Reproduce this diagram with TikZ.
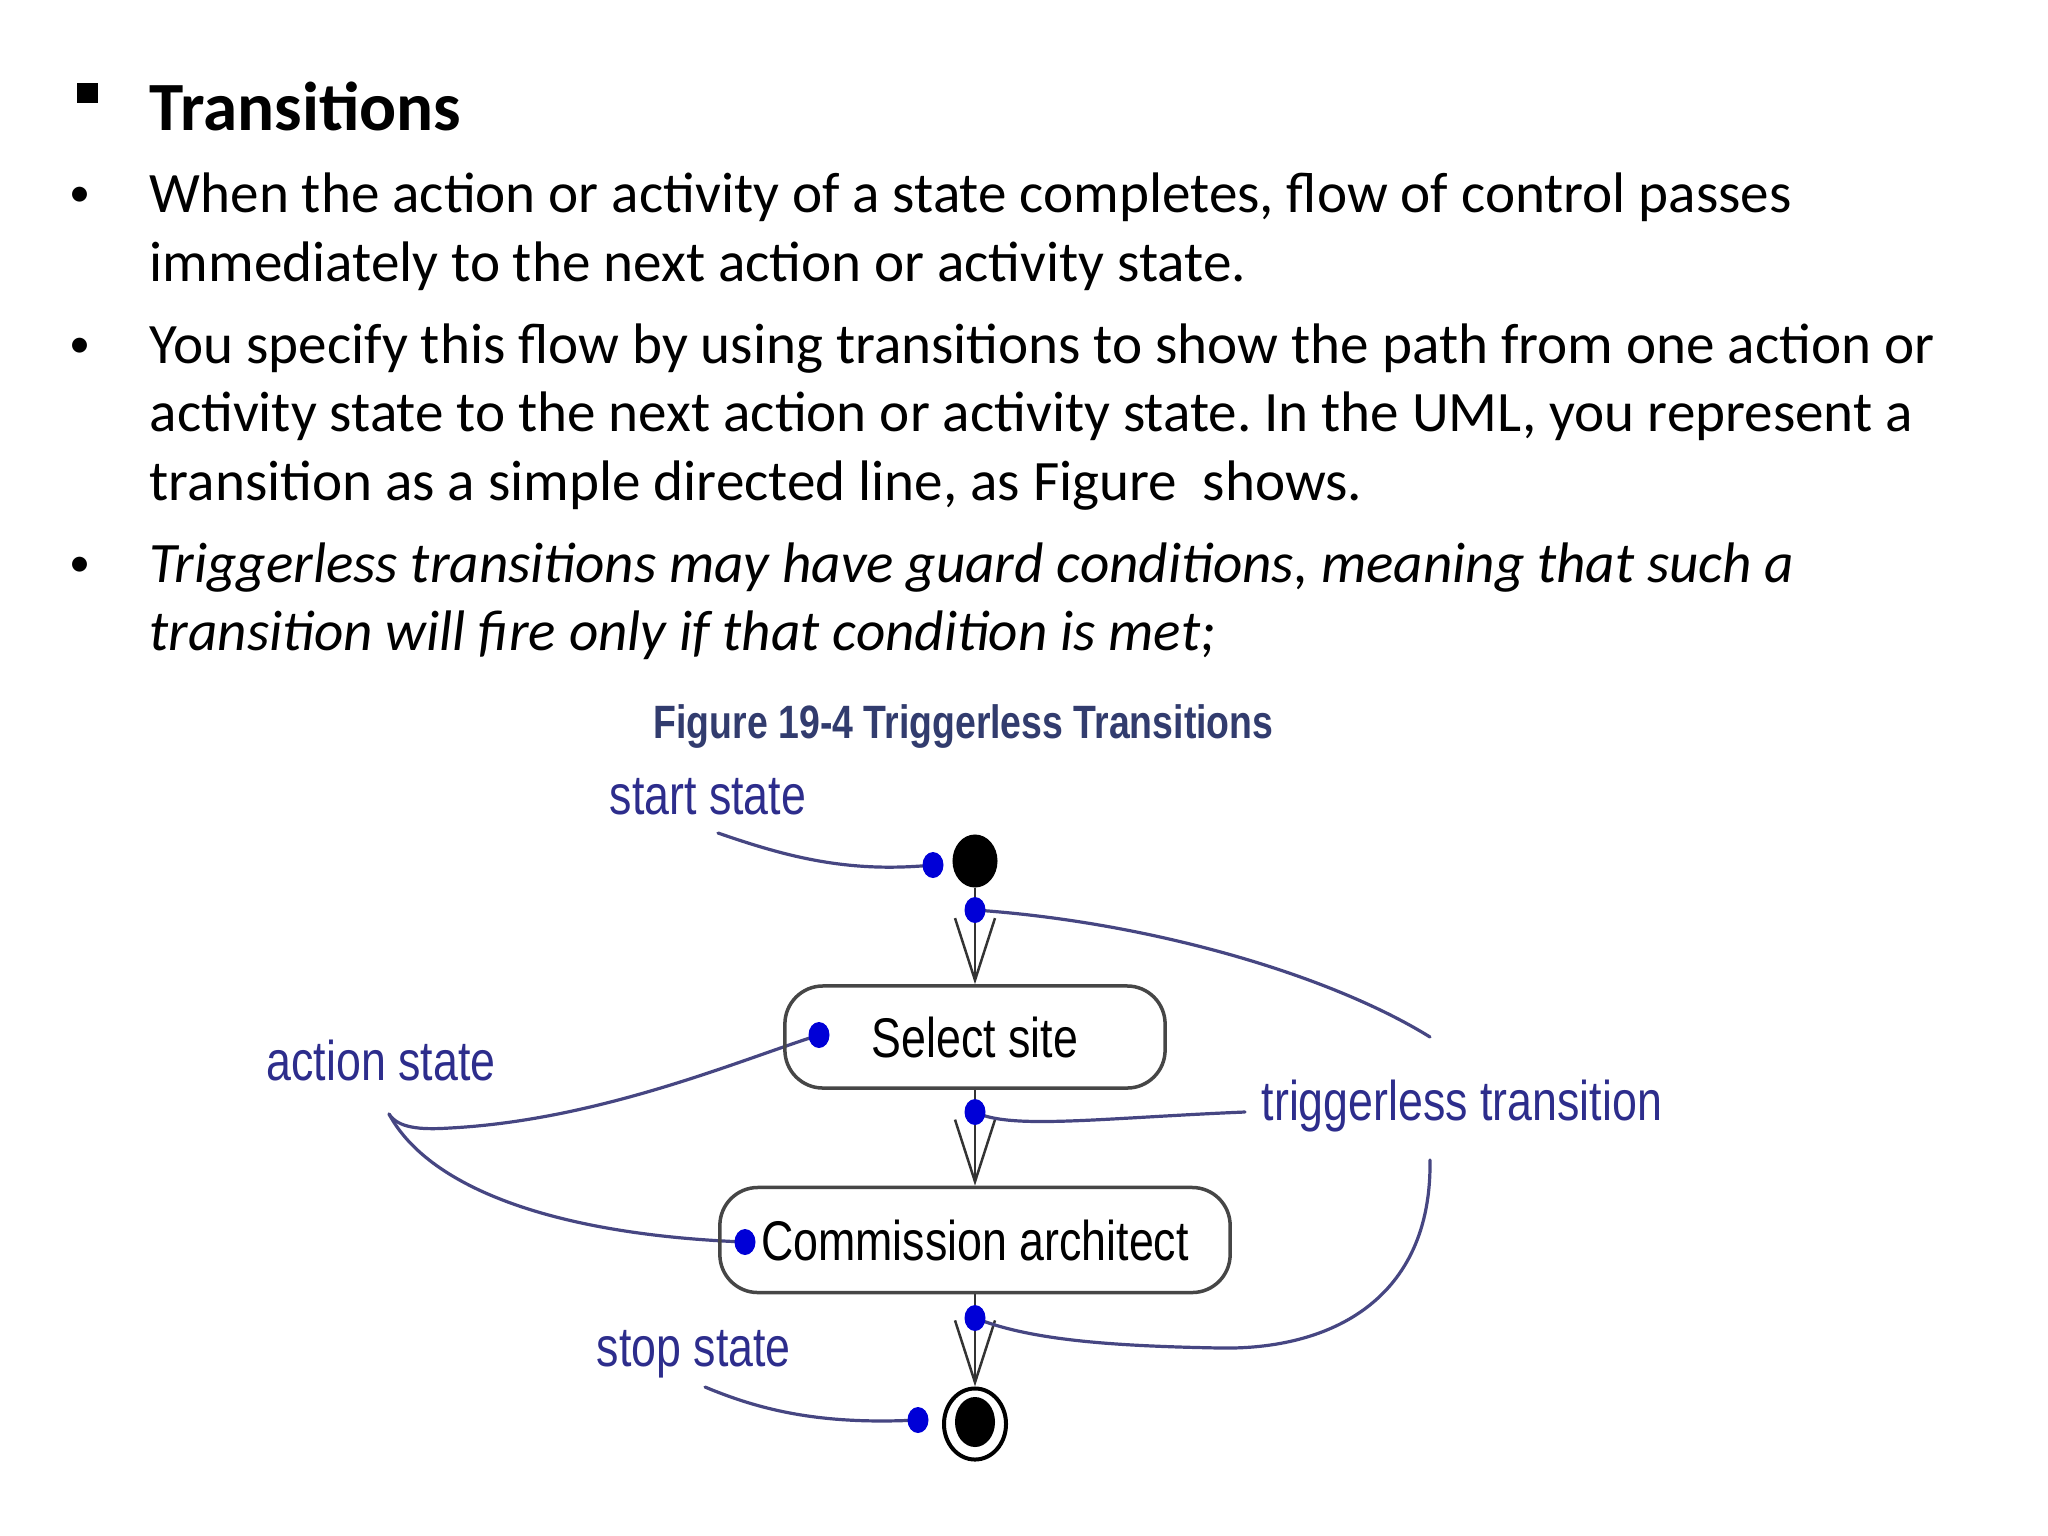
\documentclass[tikz,border=0pt]{standalone}
\usepackage{fontspec}
\setmainfont{Carlito}
\newfontfamily\figfont[FakeStretch=0.8]{Liberation Sans}
\usetikzlibrary{arrows.meta,shapes.geometric,backgrounds}
\definecolor{figtitle}{RGB}{50,60,110}
\definecolor{lblc}{RGB}{45,45,140}
\definecolor{leadc}{RGB}{70,70,130}
\definecolor{dotc}{RGB}{0,0,215}
\definecolor{boxc}{RGB}{70,70,70}
\frenchspacing
\begin{document}
\begin{tikzpicture}[x=0.01cm,y=-0.01cm,
  bodytext/.style={anchor=base west,inner sep=0,font=\fontsize{16.25pt}{19.6pt}\selectfont},
  bodyit/.style={bodytext,font=\fontsize{16.25pt}{19.6pt}\selectfont\itshape},
  bul/.style={anchor=base,inner sep=0,font=\fontsize{12pt}{14pt}\selectfont},
  lbl/.style={anchor=base west,inner sep=0,text=lblc,font=\figfont\fontsize{15.9pt}{18pt}\selectfont},
  statebox/.style={draw=boxc,line width=0.035cm,rounded corners=0.38cm,inner sep=0,
    font=\figfont\fontsize{15.9pt}{18pt}\selectfont},
  bdot/.style={ellipse,fill=dotc,draw=none,minimum width=0.21cm,minimum height=0.26cm,inner sep=0},
  trans/.style={draw=black!80,line width=0.025cm,-{Straight Barb[length=0.62cm,width=0.40cm]}},
  lead/.style={draw=leadc,line width=0.032cm,line cap=round}
]
\useasboundingbox (0,0) rectangle (2048,1536);
% ---- text ----
\fill (77,83) rectangle (98,103);
\node[bodytext,font=\fontsize{19.65pt}{24pt}\selectfont\bfseries] (title) at (149,130) {Transitions};
\node[bul] (b1) at (80,206) {•};
\node[bodytext] (l1) at (149,212) {When the action or activity of a state completes, flow of control passes};
\node[bodytext] (l2) at (149,281) {immediately to the next action or activity state.};
\node[bul] (b2) at (80,357) {•};
\node[bodytext] (l3) at (149,363) {You specify this flow by using transitions to show the path from one action or};
\node[bodytext] (l4) at (149,431) {activity state to the next action or activity state. In the UML, you represent a};
\node[bodytext] (l5) at (149,500) {transition as a simple directed line, as Figure\ \ shows.};
\node[bul] (b3) at (80,576) {•};
\node[bodyit] (l6) at (149,582) {Triggerless transitions may have guard conditions, meaning that such a};
\node[bodyit] (l7) at (149,650) {transition will fire only if that condition is met;};
% ---- figure ----
\node[anchor=base west,inner sep=0,text=figtitle,font=\figfont\bfseries\fontsize{13.3pt}{15pt}\selectfont] (figt) at (653,738) {Figure 19-4 Triggerless Transitions};
\node[lbl] (lstart) at (609,814) {start state};
\node[lbl] (laction) at (266,1080) {action state};
\node[lbl] (ltrig) at (1261,1120) {triggerless transition};
\node[lbl] (lstop) at (596,1366) {stop state};

\node[ellipse,fill=black,minimum width=0.45cm,minimum height=0.53cm,inner sep=0] (start) at (975,861) {};
\node[statebox,minimum width=3.80cm,minimum height=1.02cm] (sel) at (975,1037) {Select site};
\node[statebox,minimum width=5.10cm,minimum height=1.05cm] (com) at (975,1240) {Commission architect};
\node[ellipse,draw=black,line width=0.04cm,minimum width=0.62cm,minimum height=0.71cm,inner sep=0] (stop) at (975,1424) {};
\node[ellipse,fill=black,minimum width=0.40cm,minimum height=0.50cm,inner sep=0] (stopin) at (975,1422) {};

\node[bdot] (dStart) at (933,865) {};
\node[bdot] (dT1) at (975,910) {};
\node[bdot] (dSel) at (819,1035) {};
\node[bdot] (dT2) at (975,1112) {};
\node[bdot] (dCom) at (745,1242) {};
\node[bdot] (dT3) at (975,1318) {};
\node[bdot] (dStop) at (918,1420) {};

\coordinate (cStart) at (718,833);
\coordinate (cTrA) at (1430,1037);
\coordinate (cTrB) at (1245,1112);
\coordinate (cTrC) at (1430,1160);
\coordinate (cAct) at (389,1114);
\coordinate (cStop) at (705,1387);

\begin{pgfonlayer}{background}
\draw[trans] (start) -- (sel);
\draw[trans] (sel) -- (com);
\draw[trans] (com) -- (stop);
\draw[lead] (cStart) .. controls (790,858) and (850,873) .. (dStart.center);
\draw[lead] (dT1.center) .. controls (1150,922) and (1330,975) .. (cTrA);
\draw[lead] (dT2.center) .. controls (1010,1130) and (1100,1118) .. (cTrB);
\draw[lead] (cTrC) .. controls (1432,1300) and (1330,1350) .. (1220,1348) .. controls (1110,1346) and (1030,1340) .. (dT3.center);
\draw[lead] (cAct) .. controls (398,1128) and (420,1130) .. (450,1128) .. controls (600,1120) and (740,1060) .. (dSel.center);
\draw[lead] (cAct) .. controls (430,1190) and (560,1235) .. (dCom.center);
\draw[lead] (cStop) .. controls (760,1410) and (820,1425) .. (dStop.center);
\end{pgfonlayer}
\end{tikzpicture}
\end{document}
